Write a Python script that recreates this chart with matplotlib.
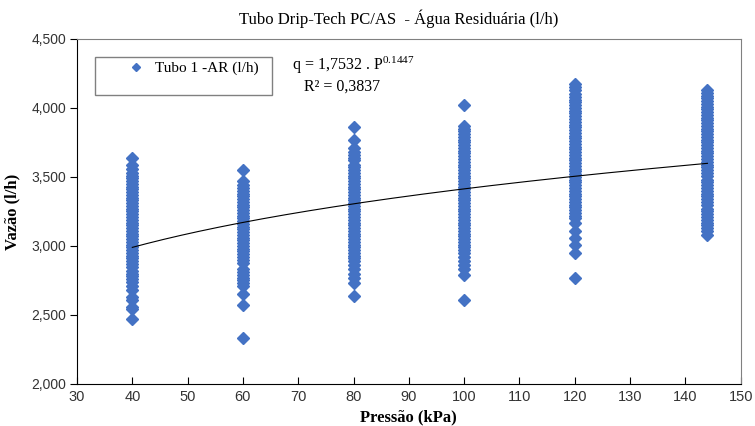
import matplotlib
matplotlib.use('Agg')
import matplotlib.pyplot as plt
from matplotlib.patches import Rectangle
from matplotlib.ticker import FuncFormatter
import numpy as np

p40 = [3.64, 3.59, 3.56, 3.53, 3.51, 3.49, 3.47, 3.45, 3.43, 3.41, 3.39, 3.37,
       3.35, 3.33, 3.31, 3.29, 3.27, 3.25, 3.23, 3.21, 3.19, 3.17, 3.15, 3.13,
       3.11, 3.09, 3.07, 3.05, 3.03, 3.01, 2.99, 2.97, 2.95, 2.93, 2.91, 2.89,
       2.87, 2.85, 2.82, 2.80, 2.78, 2.76, 2.74, 2.71, 2.68, 2.63, 2.61, 2.56,
       2.54, 2.47]
p60 = [3.55, 3.47, 3.44, 3.42, 3.40, 3.38, 3.36, 3.34, 3.32, 3.30, 3.28, 3.26,
       3.24, 3.22, 3.20, 3.18, 3.16, 3.14, 3.12, 3.10, 3.08, 3.06, 3.04, 3.02,
       3.00, 2.98, 2.96, 2.94, 2.92, 2.90, 2.88, 2.83, 2.81, 2.79, 2.77, 2.75,
       2.73, 2.71, 2.65, 2.57, 2.33]
p80 = [3.86, 3.77, 3.71, 3.68, 3.66, 3.64, 3.62, 3.59, 3.57, 3.55, 3.53, 3.51,
       3.49, 3.47, 3.45, 3.43, 3.41, 3.39, 3.37, 3.35, 3.33, 3.31, 3.29, 3.27,
       3.25, 3.23, 3.21, 3.19, 3.17, 3.15, 3.13, 3.11, 3.09, 3.07, 3.05, 3.03,
       3.01, 2.99, 2.97, 2.95, 2.93, 2.91, 2.89, 2.86, 2.83, 2.80, 2.77, 2.73,
       2.64]
p100 = [4.02, 3.87, 3.85, 3.83, 3.81, 3.79, 3.77, 3.75, 3.73, 3.71, 3.69, 3.67,
        3.65, 3.63, 3.61, 3.59, 3.57, 3.55, 3.53, 3.51, 3.49, 3.47, 3.45, 3.43,
        3.41, 3.39, 3.37, 3.35, 3.33, 3.31, 3.29, 3.27, 3.25, 3.23, 3.21, 3.19,
        3.17, 3.15, 3.13, 3.11, 3.09, 3.07, 3.05, 3.03, 3.01, 2.99, 2.97, 2.95,
        2.92, 2.89, 2.86, 2.83, 2.79, 2.61]
p120 = [4.17, 4.15, 4.13, 4.10, 4.08, 4.06, 4.04, 4.02, 4.00, 3.98, 3.96, 3.94,
        3.92, 3.90, 3.88, 3.86, 3.84, 3.82, 3.80, 3.78, 3.76, 3.74, 3.72, 3.70,
        3.68, 3.66, 3.64, 3.62, 3.60, 3.58, 3.56, 3.54, 3.52, 3.50, 3.48, 3.46,
        3.44, 3.42, 3.40, 3.38, 3.36, 3.34, 3.32, 3.30, 3.28, 3.26, 3.24, 3.22,
        3.20, 3.17, 3.11, 3.06, 3.01, 2.95, 2.77]
p144 = [4.13, 4.11, 4.09, 4.07, 4.05, 4.03, 4.01, 3.99, 3.97, 3.95, 3.93, 3.91,
        3.89, 3.87, 3.85, 3.83, 3.81, 3.79, 3.77, 3.75, 3.73, 3.71, 3.69, 3.67,
        3.65, 3.63, 3.61, 3.59, 3.57, 3.55, 3.53, 3.51, 3.48, 3.46, 3.44, 3.42,
        3.40, 3.38, 3.36, 3.34, 3.32, 3.30, 3.27, 3.25, 3.23, 3.21, 3.19, 3.17,
        3.15, 3.13, 3.11, 3.08]
pressures = [40, 60, 80, 100, 120, 144]
flows = [p40, p60, p80, p100, p120, p144]

coef_a = 1.7532
coef_b = 0.1447

plt.rcParams['mathtext.fontset'] = 'custom'
plt.rcParams['mathtext.rm'] = 'Liberation Serif'
plt.rcParams['mathtext.it'] = 'Liberation Serif'

serif = ['Liberation Serif', 'DejaVu Serif']
sans = ['Liberation Sans', 'DejaVu Sans']

fig = plt.figure(figsize=(7.55, 4.26), dpi=100)
ax = fig.add_axes([0.102, 0.0986, 0.879, 0.81])

xs = np.concatenate([[p] * len(f) for p, f in zip(pressures, flows)])
ys = np.concatenate(flows)
ax.plot(xs, ys, linestyle='none', marker='D', markersize=6.0, color='#4472C4',
        markeredgecolor='#4472C4', label='Tubo 1 -AR (l/h)', zorder=3)

xt = np.linspace(40, 144, 200)
ax.plot(xt, coef_a * xt ** coef_b, color='black', linewidth=0.8, zorder=4)

ax.set_xlim(30, 150)
ax.set_ylim(2.0, 4.5)
ax.set_xticks(np.arange(30, 151, 10))
ax.set_yticks(np.arange(2.0, 4.51, 0.5))
ax.yaxis.set_major_formatter(FuncFormatter(lambda v, pos: f'{v:.3f}'.replace('.', ',')))
ax.tick_params(axis='x', direction='in', length=5, labelsize=10.5, pad=4)
ax.tick_params(axis='y', direction='out', length=5, labelsize=10, pad=3)
for lab in ax.get_xticklabels() + ax.get_yticklabels():
    lab.set_family(sans)
    lab.set_color('#333333')

for s in ['top', 'right']:
    ax.spines[s].set_color('#808080')
for s in ['left', 'bottom']:
    ax.spines[s].set_color('black')

ax.set_xlabel('Pressão (kPa)', family=serif, fontweight='bold', fontsize=12, labelpad=4)
ax.set_ylabel('Vazão (l/h)', family=serif, fontweight='bold', fontsize=12, labelpad=8)
fig.text(0.528, 0.955, 'Tubo Drip-Tech PC/AS  - Água Residuária (l/h)', family=serif,
         fontsize=12, ha='center', va='center')

# legend box (taller than the single entry, as in the original)
ax.add_patch(Rectangle((0.0275, 0.837), 0.266, 0.11, transform=ax.transAxes,
                       facecolor='white', edgecolor='#808080', linewidth=1.0, zorder=5))
leg = ax.legend(loc='upper left', bbox_to_anchor=(0.057, 0.975), frameon=False,
                prop={'family': serif, 'size': 11}, handletextpad=0.7,
                handlelength=1.0, markerscale=0.7)
leg.set_zorder(6)

ax.text(0.324, 0.924, 'q = 1,7532 . P$^{0.1447}$', transform=ax.transAxes,
        family=serif, fontsize=11.5, ha='left', va='center', zorder=6)
ax.text(0.342, 0.862, 'R² = 0,3837', transform=ax.transAxes,
        family=serif, fontsize=11.5, ha='left', va='center', zorder=6)

fig.savefig('out.png', dpi=100)
